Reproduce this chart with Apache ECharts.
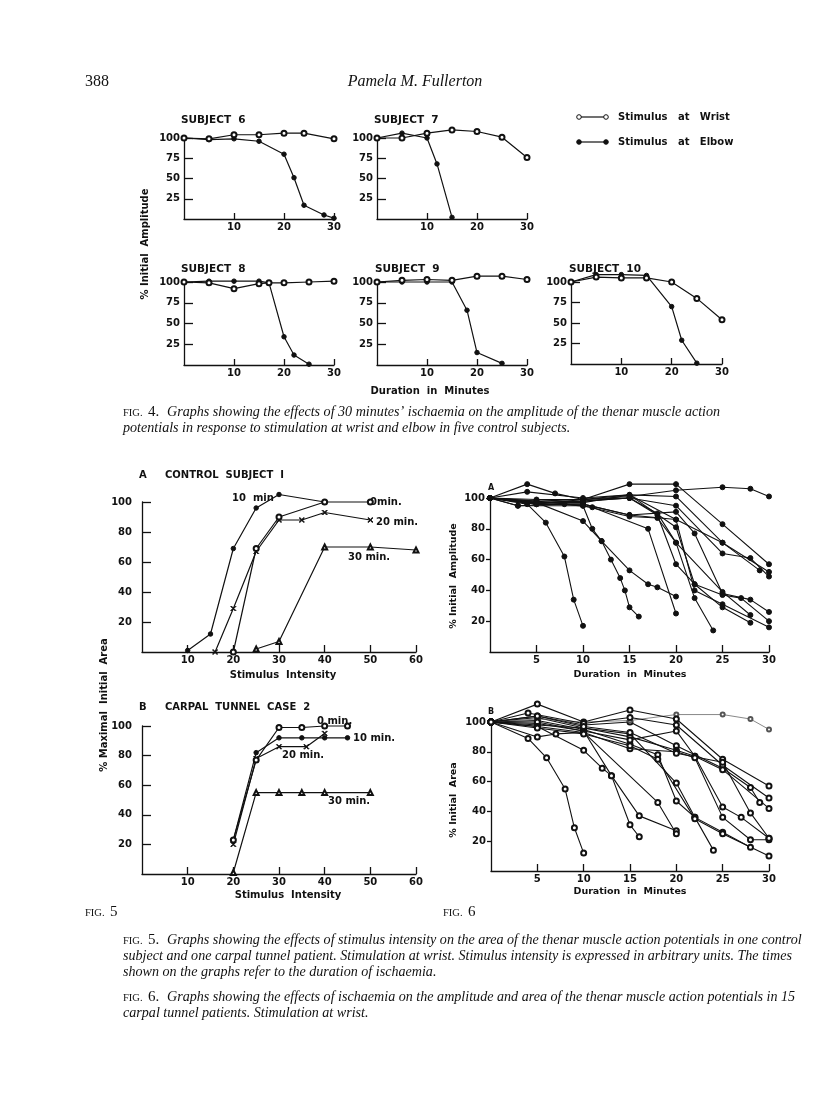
<!DOCTYPE html>
<html><head><meta charset="utf-8">
<script src="https://cdn.jsdelivr.net/npm/echarts@6/dist/echarts.min.js"></script>
<style>html,body{margin:0;padding:0;background:#fff}#c{width:816px;height:1118px}</style>
</head><body><div id="c"></div>
<script>
// ---------- FIG. 4 data (minutes, % initial amplitude) ----------
const s6Wrist = [[0,100],[5,99],[10,104],[15,104],[20,106],[24,106],[30,99]];
const s6Elbow = [[0,100],[5,98],[10,99],[15,96],[20,80],[22,51],[24,17],[28,5],[30,1]];
const s7Wrist = [[0,100],[5,100],[10,106],[15,110],[20,108],[25,101],[30,76]];
const s7Elbow = [[0,100],[5,106],[10,100],[12,68],[15,2]];
const s8Wrist = [[0,100],[5,99],[10,92],[15,98],[17,99],[20,99],[25,100],[30,101]];
const s8Elbow = [[0,100],[5,101],[10,101],[15,101],[17,99],[20,34],[22,12],[25,1]];
const s9Wrist = [[0,100],[5,102],[10,103],[15,102],[20,107],[25,107],[30,103]];
const s9Elbow = [[0,100],[5,100],[10,100],[15,100],[18,66],[20,15],[25,2]];
const s10Wrist = [[0,100],[5,106],[10,105],[15,105],[20,100],[25,80],[30,54]];
const s10Elbow = [[0,100],[5,109],[10,109],[15,108],[20,70],[22,29],[25,1]];
const subjectTitles = ['SUBJECT  6','SUBJECT  7','SUBJECT  8','SUBJECT  9','SUBJECT  10'];

// ---------- FIG. 5 data (stimulus intensity, % maximal initial area) ----------
const ctrl0 = [[20,0],[25,69],[30,90],[40,100],[50,100]];
const ctrl10 = [[10,1],[15,12],[20,69],[25,96],[30,105],[40,100]];
const ctrl20 = [[16,0],[20,29],[25,67],[30,88],[35,88],[40,93],[50,88]];
const ctrl30 = [[25,2],[30,7],[40,70],[50,70],[60,68]];
const ct0 = [[20,23],[25,77],[30,99],[35,99],[40,100],[45,100]];
const ct10 = [[20,23],[25,82],[30,92],[35,92],[40,92],[45,92]];
const ct20 = [[20,20],[25,78],[30,86],[36,86],[40,95]];
const ct30 = [[20,1],[25,55],[30,55],[35,55],[40,55],[50,55]];

// ---------- FIG. 6 data (minutes, % initial amplitude / area), 15 patients ----------
const ampCurves = [
[[0,100],[4,96],[6,84],[8,62],[9,34],[10,17]],
[[0,100],[5,97],[10,85],[12,72],[13,60],[14,48],[14.5,40],[15,29],[16,23]],
[[0,100],[5,98],[10,95],[11,80],[12,72],[15,53],[17,44],[18,42],[20,36]],
[[0,100],[3,95],[8,96],[11,94],[17,80],[20,25]],
[[0,100],[5,96],[10,99],[15,100],[18,90],[20,71],[22,35],[24,14]],
[[0,100],[5,97],[10,98],[15,100],[18,89],[20,57],[22,44],[25,29],[28,19]],
[[0,100],[5,99],[10,99],[15,102],[20,86],[25,71],[29,53]],
[[0,100],[5,98],[10,99],[15,101],[20,105],[25,107],[28,106],[30,101]],
[[0,100],[4,109],[7,103],[10,99],[15,109],[20,109],[25,83],[30,57]],
[[0,100],[4,104],[10,100],[15,102],[20,101],[25,71],[30,52]],
[[0,100],[5,97],[10,98],[15,100],[20,95],[25,64],[28,61],[30,49]],
[[0,100],[5,96],[10,96],[15,89],[20,91],[22,77],[25,38],[28,34],[30,26]],
[[0,100],[5,97],[10,97],[15,102],[20,81],[22,44],[25,37],[27,35],[30,20]],
[[0,100],[5,96],[10,96],[15,89],[20,86],[22,40],[25,31],[30,16]],
[[0,100],[3,95],[10,95],[15,88],[18,87],[20,71],[25,39],[28,24]]
];
const areaCurves = [
[[0,100],[4,89],[6,76],[8,55],[9,29],[10,12]],
[[0,100],[5,97],[10,81],[12,69],[13,64],[15,31],[16,23]],
[[0,100],[5,99],[10,94],[13,64],[16,37],[20,27]],
[[0,100],[5,90],[7,92],[10,93],[18,46],[20,25]],
[[0,100],[5,103],[10,96],[15,92],[20,59],[22,36],[24,14]],
[[0,100],[5,101],[10,95],[15,85],[18,78],[20,47],[22,36],[25,26],[28,16]],
[[0,100],[5,104],[10,98],[15,100],[20,84],[25,69],[28,56],[29,46]],
[[0,100],[5,102],[10,100],[15,101],[20,105],[25,105],[28,102],[30,95]],
[[0,100],[5,112],[10,100],[15,108],[20,102],[25,75],[30,57]],
[[0,100],[4,106],[10,99],[15,103],[20,98],[25,71],[30,49]],
[[0,100],[5,98],[10,96],[15,90],[20,81],[22,77],[25,68],[30,42]],
[[0,100],[5,100],[10,94],[15,88],[20,94],[22,77],[25,43],[27,36],[30,22]],
[[0,100],[5,97],[10,93],[15,82],[20,80],[22,76],[25,36],[28,21],[30,21]],
[[0,100],[5,96],[10,92],[15,84],[18,75],[22,35],[25,25],[30,10]],
[[0,100],[5,104],[10,97],[15,93],[20,79],[25,73],[28,39],[30,22]]
];

// ---------- text ----------
const cap4 = ['Graphs showing the effects of 30 minutes\u2019 ischaemia on the amplitude of the thenar muscle action',
  'potentials in response to stimulation at wrist and elbow in five control subjects.'];
const cap5 = ['Graphs showing the effects of stimulus intensity on the area of the thenar muscle action potentials in one control',
  'subject and one carpal tunnel patient. Stimulation at wrist. Stimulus intensity is expressed in arbitrary units. The times',
  'shown on the graphs refer to the duration of ischaemia.'];
const cap6 = ['Graphs showing the effects of ischaemia on the amplitude and area of the thenar muscle action potentials in 15',
  'carpal tunnel patients. Stimulation at wrist.'];

// ---------- build ----------
const INK = '#111';
const F = 'DejaVu Sans';
const chart = echarts.init(document.getElementById('c'), null, {renderer:'canvas'});

const grids = [
  {left:184, top:138, width:150, height:81},
  {left:377, top:138, width:150, height:81},
  {left:184, top:282, width:150, height:83},
  {left:377, top:282, width:150, height:83},
  {left:571, top:282, width:151, height:82},
  {left:142, top:502, width:274, height:150},
  {left:142, top:726, width:274, height:148},
  {left:490, top:498, width:279, height:154},
  {left:491, top:722, width:278, height:149}
];
const axLine = {lineStyle:{color:INK, width:1.3}};
const lab = (m)=>({color:INK, fontFamily:F, fontWeight:'bold', fontSize:10, margin:m, showMinLabel:false});
const xAxis = [], yAxis = [];
grids.forEach((g,i)=>{
  g.containLabel = false;
  let xc, yc;
  if (i < 5) {
    xc = {min:0,max:30,interval:10, axisTick:{inside:true,length:6,lineStyle:{color:INK,width:1.3}}, axisLabel:lab(3)};
    yc = {min:0,max:100,interval:25, axisTick:{inside:true,length:9,lineStyle:{color:INK,width:1.3}}, axisLabel:lab(4)};
  } else if (i < 7) {
    xc = {min:0,max:60,interval:10, axisTick:{inside:true,length:7,lineStyle:{color:INK,width:1.3}}, axisLabel:lab(3)};
    yc = {min:0,max:100,interval:20, axisTick:{inside:true,length:9,lineStyle:{color:INK,width:1.3}}, axisLabel:lab(10)};
  } else {
    xc = {min:0,max:30,interval:5, axisTick:{inside:true,length:7,lineStyle:{color:INK,width:1.3}}, axisLabel:lab(3)};
    yc = {min:0,max:100,interval:20, axisTick:{inside:false,length:4,lineStyle:{color:INK,width:1.3}}, axisLabel:lab(5)};
  }
  xAxis.push(Object.assign({type:'value', gridIndex:i, axisLine:axLine, splitLine:{show:false}}, xc));
  yAxis.push(Object.assign({type:'value', gridIndex:i, axisLine:axLine, splitLine:{show:false}}, yc));
});

const XSYM = 'path://M0,1L1,0L5,4L9,0L10,1L6,5L10,9L9,10L5,6L1,10L0,9L4,5Z';
function ln(data, gi, symbol, size, lw, color) {
  return {type:'line', xAxisIndex:gi, yAxisIndex:gi, data:data, symbol:symbol, symbolSize:size||5,
    clip:false, animation:false, silent:true,
    lineStyle:{color:color||INK, width:lw||1.2}, itemStyle:{color:color||INK, borderColor:color||INK, borderWidth:1}};
}
const series = [];
const f4 = [[s6Wrist,s6Elbow],[s7Wrist,s7Elbow],[s8Wrist,s8Elbow],[s9Wrist,s9Elbow],[s10Wrist,s10Elbow]];
f4.forEach((p,i)=>{ series.push(ln(p[1], i, 'circle', 4.5)); series.push(ln(p[0], i, 'emptyCircle', 5)); });
series.push(ln(ctrl30,5,'emptyTriangle',5), ln(ctrl20,5,XSYM,5), ln(ctrl10,5,'circle',4.5), ln(ctrl0,5,'emptyCircle',5));
series.push(ln(ct30,6,'emptyTriangle',5), ln(ct20,6,XSYM,5), ln(ct10,6,'circle',4.5), ln(ct0,6,'emptyCircle',5));
ampCurves.forEach(c=>series.push(ln(c,7,'circle',5,1.1)));
areaCurves.forEach((c,k)=>series.push(k===7 ? ln(c,8,'emptyCircle',4,0.7,'#555') : ln(c,8,'emptyCircle',5,1.1)));

function T(text, x, y, opt) {
  opt = opt || {};
  return {type:'text', x:x, y:y, rotation:opt.rot||0, silent:true,
    style:{text:text, font:opt.font||('bold 10px '+F), fill:INK,
      textAlign:opt.align||'left', align:opt.align||'left',
      textVerticalAlign:'middle', verticalAlign:'middle'}};
}
const g = [];
g.push(T('388', 85, 82, {font:'16px Liberation Serif'}));
g.push(T('Pamela M. Fullerton', 415, 82, {font:'italic 16px Liberation Serif', align:'center'}));
const titlePos = [[181,120],[374,120],[181,269],[375,269],[569,269]];
subjectTitles.forEach((t,i)=>g.push(T(t, titlePos[i][0], titlePos[i][1], {font:'bold 10.5px '+F})));
// legend
[['Stimulus   at   Wrist',117,true],['Stimulus   at   Elbow',142,false]].forEach(([t,y,open])=>{
  g.push({type:'line', shape:{x1:579,y1:y,x2:606,y2:y}, style:{stroke:INK, lineWidth:1.2}, silent:true});
  [579,606].forEach(x=>g.push({type:'circle', shape:{cx:x,cy:y,r:2.3}, style:{fill:open?'#fff':INK, stroke:INK, lineWidth:1}, silent:true}));
  g.push(T(t, 618, y));
});
g.push(T('% Initial  Amplitude', 145, 244, {rot:Math.PI/2, align:'center'}));
g.push(T('Duration  in  Minutes', 430, 391, {align:'center'}));
// captions
const CAPF = 'italic 14.1px Liberation Serif';
function caption(num, lines, y0) {
  g.push(T('FIG.', 123, y0+1, {font:'10.5px Liberation Serif'}));
  g.push(T(num+'.', 148, y0, {font:'15px Liberation Serif'}));
  lines.forEach((l,i)=>g.push(T(l, i===0?167:123, y0+i*16, {font:CAPF})));
}
caption('4', cap4, 412);
// Fig 5
g.push(T('A', 139, 475));
g.push(T('CONTROL  SUBJECT  I', 165, 475));
g.push(T('10  min', 232, 498));
g.push(T('0min.', 370, 502));
g.push(T('20 min.', 376, 522));
g.push(T('30 min.', 348, 557));
g.push(T('Stimulus  Intensity', 283, 675, {align:'center'}));
g.push(T('B', 139, 707));
g.push(T('CARPAL  TUNNEL  CASE  2', 165, 707));
g.push(T('0 min.', 317, 721));
g.push(T('10 min.', 353, 738));
g.push(T('20 min.', 282, 755));
g.push(T('30 min.', 328, 801));
g.push(T('Stimulus  Intensity', 288, 895, {align:'center'}));
g.push(T('% Maximal  Initial  Area', 104, 705, {rot:Math.PI/2, align:'center'}));
// Fig 6
g.push(T('A', 488, 488, {font:'bold 8px '+F}));
g.push(T('B', 488, 712, {font:'bold 8px '+F}));
g.push(T('% Initial  Amplitude', 454, 576, {rot:Math.PI/2, align:'center', font:'bold 9.5px '+F}));
g.push(T('% Initial  Area', 454, 800, {rot:Math.PI/2, align:'center', font:'bold 9.5px '+F}));
g.push(T('Duration  in  Minutes', 630, 675, {align:'center', font:'bold 9.5px '+F}));
g.push(T('Duration  in  Minutes', 630, 892, {align:'center', font:'bold 9.5px '+F}));
g.push(T('FIG.', 85, 913, {font:'10.5px Liberation Serif'}));
g.push(T('5', 110, 912, {font:'15px Liberation Serif'}));
g.push(T('FIG.', 443, 913, {font:'10.5px Liberation Serif'}));
g.push(T('6', 468, 912, {font:'15px Liberation Serif'}));
caption('5', cap5, 940);
caption('6', cap6, 997);

chart.setOption({backgroundColor:'#fff', animation:false, grid:grids, xAxis:xAxis, yAxis:yAxis, series:series, graphic:{elements:g}});
</script></body></html>
